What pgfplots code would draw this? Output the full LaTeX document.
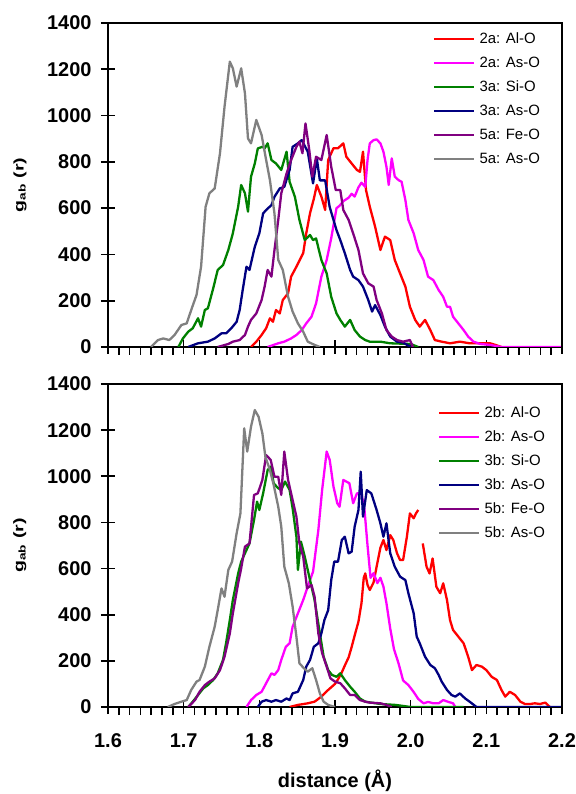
\documentclass[border=0pt]{standalone}
\usepackage{fontspec}
\setmainfont{Liberation Sans}
\usepackage{graphicx}
\usepackage{pgfplots}
\pgfplotsset{compat=1.18}

\definecolor{cRed}{RGB}{255,0,0}
\definecolor{cMag}{RGB}{255,0,255}
\definecolor{cGrn}{RGB}{0,128,0}
\definecolor{cNavy}{RGB}{0,0,128}
\definecolor{cPur}{RGB}{128,0,128}
\definecolor{cGray}{RGB}{128,128,128}

\pgfplotsset{
  gpanel/.style={
    scale only axis, width=454bp, height=324bp,
    xmin=1.6, xmax=2.2, ymin=0, ymax=1400,
    axis lines=box, separate axis lines=false,
    xtick={1.6,1.7,1.8,1.9,2.0,2.1,2.2},
    ytick={0,200,400,600,800,1000,1200,1400},
    minor x tick num=6,
    xtick pos=bottom, ytick pos=left, tick align=center,
    major tick length=14bp, minor tick length=8bp,
    tick style={black, line width=1.6bp},
    minor x tick style={yshift=-4bp},
    axis line style={black, line width=1.8bp},
    unbounded coords=jump,
    /pgf/number format/assume math mode=true,
    /pgf/number format/1000 sep={},
    ticklabel style={font=\fontsize{20}{24}\selectfont\bfseries},
    yticklabel style={xshift=-6bp},
    xticklabel style={yshift=-16bp, /pgf/number format/.cd, fixed, fixed zerofill, precision=1},
    ylabel={\scalebox{1.4}[1]{g\textsubscript{ab} (r)}},
    ylabel style={at={(axis description cs:-0.194,0.5)}, anchor=center, font=\fontsize{14}{16}\selectfont\bfseries},
    legend cell align=left,
    legend style={draw=none, fill=none, inner sep=0pt, anchor=north west,
      font=\fontsize{15}{18}\selectfont, row sep=8bp, column sep=3bp,
      nodes={inner sep=1bp, text height=11bp, text depth=3bp}},
    legend image code/.code={\draw[#1] (0bp,0bp) -- (40bp,0bp);},
    every axis plot/.append style={line width=2.3bp, line join=round, mark=none},
  }
}

\begin{document}
\begin{tikzpicture}
\path[use as bounding box] (0,0) rectangle (576bp,794bp);

% ---- top panel: structures a ----
\begin{axis}[gpanel, name=top, at={(108bp,447bp)}, anchor=south west,
  xticklabels={}, legend style={at={(0.716,0.975)}}]
\addplot[cRed] coordinates {(1.789,0)(1.796,23)(1.803,52)(1.809,81)(1.814,124)(1.818,109)(1.822,160)(1.827,145)(1.831,203)(1.838,232)(1.842,304)(1.849,347)(1.858,406)(1.862,491)(1.867,578)(1.872,640)(1.876,700)(1.882,650)(1.887,592)(1.891,808)(1.898,859)(1.904,859)(1.911,880)(1.915,822)(1.922,793)(1.929,765)(1.933,757)(1.937,844)(1.941,678)(1.946,606)(1.953,520)(1.960,419)(1.966,477)(1.973,462)(1.979,376)(1.986,318)(1.993,261)(1.999,174)(2.006,117)(2.012,88)(2.019,117)(2.026,73)(2.032,30)(2.041,23)(2.052,16)(2.065,23)(2.078,16)(2.092,16)(2.105,16)(2.112,9)(2.12,0)};
\addlegendentry{2a: Al-O}
\addplot[cMag] coordinates {(1.811,0)(1.825,16)(1.833,23)(1.842,37)(1.849,52)(1.856,73)(1.862,102)(1.869,131)(1.875,189)(1.882,304)(1.889,376)(1.895,470)(1.902,600)(1.906,610)(1.911,630)(1.918,645)(1.922,662)(1.926,650)(1.931,690)(1.935,710)(1.940,692)(1.943,808)(1.946,880)(1.951,894)(1.955,897)(1.960,880)(1.964,844)(1.968,779)(1.971,700)(1.975,815)(1.979,736)(1.984,721)(1.988,714)(1.993,635)(1.997,549)(2.004,491)(2.010,419)(2.017,376)(2.023,304)(2.030,289)(2.037,246)(2.043,217)(2.048,174)(2.052,174)(2.056,131)(2.063,102)(2.070,73)(2.076,45)(2.083,23)(2.092,13)(2.105,9)(2.12,0)(2.2,0)};
\addlegendentry{2a: As-O}
\addplot[cGrn] coordinates {(1.693,0)(1.699,37)(1.706,66)(1.712,81)(1.719,124)(1.723,88)(1.728,160)(1.732,167)(1.739,253)(1.745,333)(1.752,354)(1.759,419)(1.765,491)(1.772,606)(1.776,700)(1.781,664)(1.785,585)(1.789,736)(1.794,793)(1.798,858)(1.804,865)(1.807,858)(1.811,880)(1.816,808)(1.822,793)(1.829,765)(1.836,844)(1.840,714)(1.847,649)(1.853,549)(1.860,462)(1.867,484)(1.871,462)(1.875,469)(1.882,376)(1.889,318)(1.895,217)(1.902,145)(1.907,117)(1.913,88)(1.920,117)(1.926,73)(1.933,45)(1.940,30)(1.946,23)(1.960,23)(1.973,16)(2.0,13)(2.01,0)};
\addlegendentry{3a: Si-O}
\addplot[cNavy] coordinates {(1.706,0)(1.719,16)(1.732,23)(1.741,37)(1.750,59)(1.756,59)(1.763,81)(1.770,109)(1.774,160)(1.778,246)(1.783,347)(1.787,333)(1.794,433)(1.800,491)(1.805,577)(1.809,592)(1.816,613)(1.820,649)(1.827,685)(1.833,692)(1.840,765)(1.844,865)(1.851,880)(1.856,894)(1.864,844)(1.871,707)(1.876,815)(1.880,720)(1.887,720)(1.893,605)(1.902,505)(1.907,462)(1.913,405)(1.920,333)(1.924,304)(1.931,289)(1.937,261)(1.944,203)(1.949,153)(1.953,181)(1.960,138)(1.966,88)(1.973,45)(1.982,23)(1.990,19)(2.0,0)};
\addlegendentry{3a: As-O}
\addplot[cPur] coordinates {(1.745,0)(1.759,13)(1.765,23)(1.774,30)(1.781,52)(1.785,88)(1.789,117)(1.796,145)(1.803,203)(1.807,261)(1.811,333)(1.816,304)(1.820,419)(1.825,549)(1.829,664)(1.836,750)(1.842,808)(1.849,865)(1.853,887)(1.857,837)(1.861,966)(1.866,851)(1.870,736)(1.875,822)(1.882,808)(1.889,916)(1.895,779)(1.901,678)(1.907,678)(1.911,592)(1.918,549)(1.924,491)(1.931,419)(1.937,318)(1.944,275)(1.951,261)(1.955,203)(1.962,145)(1.968,73)(1.975,45)(1.982,30)(1.990,23)(1.999,30)(2.003,0)};
\addlegendentry{5a: Fe-O}
\addplot[cGray] coordinates {(1.657,0)(1.666,30)(1.673,37)(1.681,30)(1.688,52)(1.697,95)(1.704,102)(1.710,160)(1.717,225)(1.723,347)(1.729,606)(1.734,664)(1.741,685)(1.748,837)(1.754,1038)(1.761,1233)(1.765,1204)(1.770,1125)(1.776,1204)(1.781,1096)(1.785,901)(1.789,880)(1.796,981)(1.803,916)(1.809,808)(1.814,721)(1.820,577)(1.825,376)(1.831,333)(1.838,217)(1.844,153)(1.851,102)(1.858,66)(1.864,23)(1.873,9)(1.88,0)};
\addlegendentry{5a: As-O}
\end{axis}

% ---- bottom panel: structures b ----
\begin{axis}[gpanel, name=bot, at={(108bp,87bp)}, anchor=south west, height=323bp,
  xlabel={distance (Å)},
  xlabel style={at={(axis description cs:0.5,0)}, anchor=base, yshift=-80bp,
    font=\fontsize{20}{24}\selectfont\bfseries},
  legend style={at={(0.727,0.935)}}]
\addplot[cRed] coordinates {(1.840,0)(1.851,9)(1.864,16)(1.873,23)(1.882,45)(1.891,74)(1.900,100)(1.904,120)(1.909,150)(1.913,180)(1.918,215)(1.922,260)(1.926,310)(1.931,370)(1.935,450)(1.938,560)(1.940,579)(1.943,529)(1.946,507)(1.951,540)(1.955,608)(1.960,690)(1.964,724)(1.968,680)(1.973,745)(1.977,724)(1.982,666)(1.986,637)(1.990,637)(1.995,738)(1.999,839)(2.004,818)(2.007,839)(2.010,854)(2.013,nan)(2.016,709)(2.021,608)(2.025,579)(2.029,644)(2.034,521)(2.039,493)(2.043,536)(2.048,464)(2.052,377)(2.056,334)(2.063,305)(2.070,276)(2.076,218)(2.081,160)(2.087,182)(2.094,175)(2.100,160)(2.107,131)(2.114,117)(2.120,74)(2.125,45)(2.131,66)(2.138,52)(2.145,23)(2.151,13)(2.158,13)(2.164,16)(2.171,13)(2.178,19)(2.184,0)};
\addlegendentry{2b: Al-O}
\addplot[cMag] coordinates {(1.783,0)(1.789,30)(1.796,52)(1.803,66)(1.809,103)(1.816,146)(1.820,139)(1.825,160)(1.829,204)(1.835,261)(1.840,276)(1.844,348)(1.851,406)(1.858,464)(1.864,522)(1.871,587)(1.878,767)(1.883,941)(1.889,1107)(1.893,1071)(1.898,955)(1.903,883)(1.906,868)(1.911,984)(1.919,970)(1.924,883)(1.929,926)(1.935,926)(1.939,854)(1.943,700)(1.947,560)(1.951,580)(1.956,537)(1.960,560)(1.964,522)(1.968,450)(1.973,340)(1.978,250)(1.984,189)(1.990,115)(1.997,95)(2.004,65)(2.010,35)(2.017,16)(2.023,22)(2.030,16)(2.037,16)(2.043,30)(2.050,22)(2.056,16)(2.059,0)};
\addlegendentry{2b: As-O}
\addplot[cGrn] coordinates {(1.706,0)(1.712,23)(1.719,52)(1.726,81)(1.732,95)(1.739,117)(1.745,146)(1.752,204)(1.756,276)(1.761,377)(1.765,464)(1.772,579)(1.776,630)(1.781,666)(1.787,709)(1.793,811)(1.797,890)(1.800,854)(1.805,926)(1.811,1027)(1.815,1042)(1.819,969)(1.825,948)(1.829,941)(1.834,977)(1.840,941)(1.844,861)(1.849,738)(1.851,594)(1.855,717)(1.860,652)(1.867,550)(1.873,464)(1.880,319)(1.885,218)(1.891,160)(1.896,139)(1.902,131)(1.907,146)(1.913,117)(1.920,88)(1.926,66)(1.933,37)(1.940,23)(1.960,13)(1.98,9)(2.0,0)(2.07,0)};
\addlegendentry{3b: Si-O}
\addplot[cNavy] coordinates {(1.798,0)(1.803,23)(1.809,30)(1.816,23)(1.822,30)(1.829,23)(1.836,37)(1.840,30)(1.844,59)(1.851,66)(1.858,117)(1.862,175)(1.867,204)(1.872,261)(1.878,276)(1.882,319)(1.886,377)(1.891,420)(1.895,550)(1.899,630)(1.904,630)(1.909,724)(1.913,738)(1.918,666)(1.922,673)(1.926,782)(1.931,854)(1.934,1020)(1.937,825)(1.942,940)(1.948,926)(1.955,854)(1.960,796)(1.964,738)(1.968,796)(1.973,666)(1.979,608)(1.986,565)(1.993,550)(1.997,493)(2.004,406)(2.008,305)(2.012,276)(2.019,218)(2.026,182)(2.032,168)(2.037,139)(2.041,110)(2.048,74)(2.054,52)(2.059,45)(2.065,59)(2.072,37)(2.078,23)(2.087,0)(2.2,0)};
\addlegendentry{3b: As-O}
\addplot[cPur] coordinates {(1.706,0)(1.715,30)(1.721,66)(1.728,95)(1.734,110)(1.741,124)(1.748,160)(1.754,218)(1.761,319)(1.765,406)(1.772,536)(1.776,601)(1.781,695)(1.787,709)(1.793,919)(1.798,926)(1.804,984)(1.809,1092)(1.815,1071)(1.820,998)(1.825,998)(1.829,919)(1.833,1107)(1.838,984)(1.842,926)(1.849,825)(1.853,709)(1.858,652)(1.863,514)(1.869,529)(1.873,478)(1.878,319)(1.883,233)(1.889,175)(1.894,124)(1.900,110)(1.907,103)(1.913,81)(1.920,52)(1.926,52)(1.933,30)(1.940,23)(1.946,19)(1.960,16)(1.968,9)(1.975,0)};
\addlegendentry{5b: Fe-O}
\addplot[cGray] coordinates {(1.679,0)(1.688,13)(1.697,23)(1.704,30)(1.710,74)(1.717,110)(1.721,117)(1.728,175)(1.734,261)(1.741,348)(1.745,420)(1.750,514)(1.754,478)(1.759,594)(1.764,630)(1.770,753)(1.775,839)(1.780,1208)(1.784,1107)(1.789,1215)(1.794,1287)(1.799,1258)(1.804,1186)(1.808,1085)(1.814,1027)(1.819,962)(1.825,868)(1.829,782)(1.833,608)(1.839,536)(1.844,435)(1.849,305)(1.853,189)(1.859,168)(1.864,153)(1.870,168)(1.875,117)(1.880,59)(1.885,23)(1.891,9)(1.9,0)};
\addlegendentry{5b: As-O}
\end{axis}
% frame of both panels
\draw[black, line width=1.8bp, line cap=rect] (top.south west) -- (top.north west) -- (top.north east) -- (top.south east);
\draw[black, line width=1.8bp, line cap=rect] (bot.south west) -- (bot.north west) -- (bot.north east) -- (bot.south east);
\end{tikzpicture}
\end{document}
